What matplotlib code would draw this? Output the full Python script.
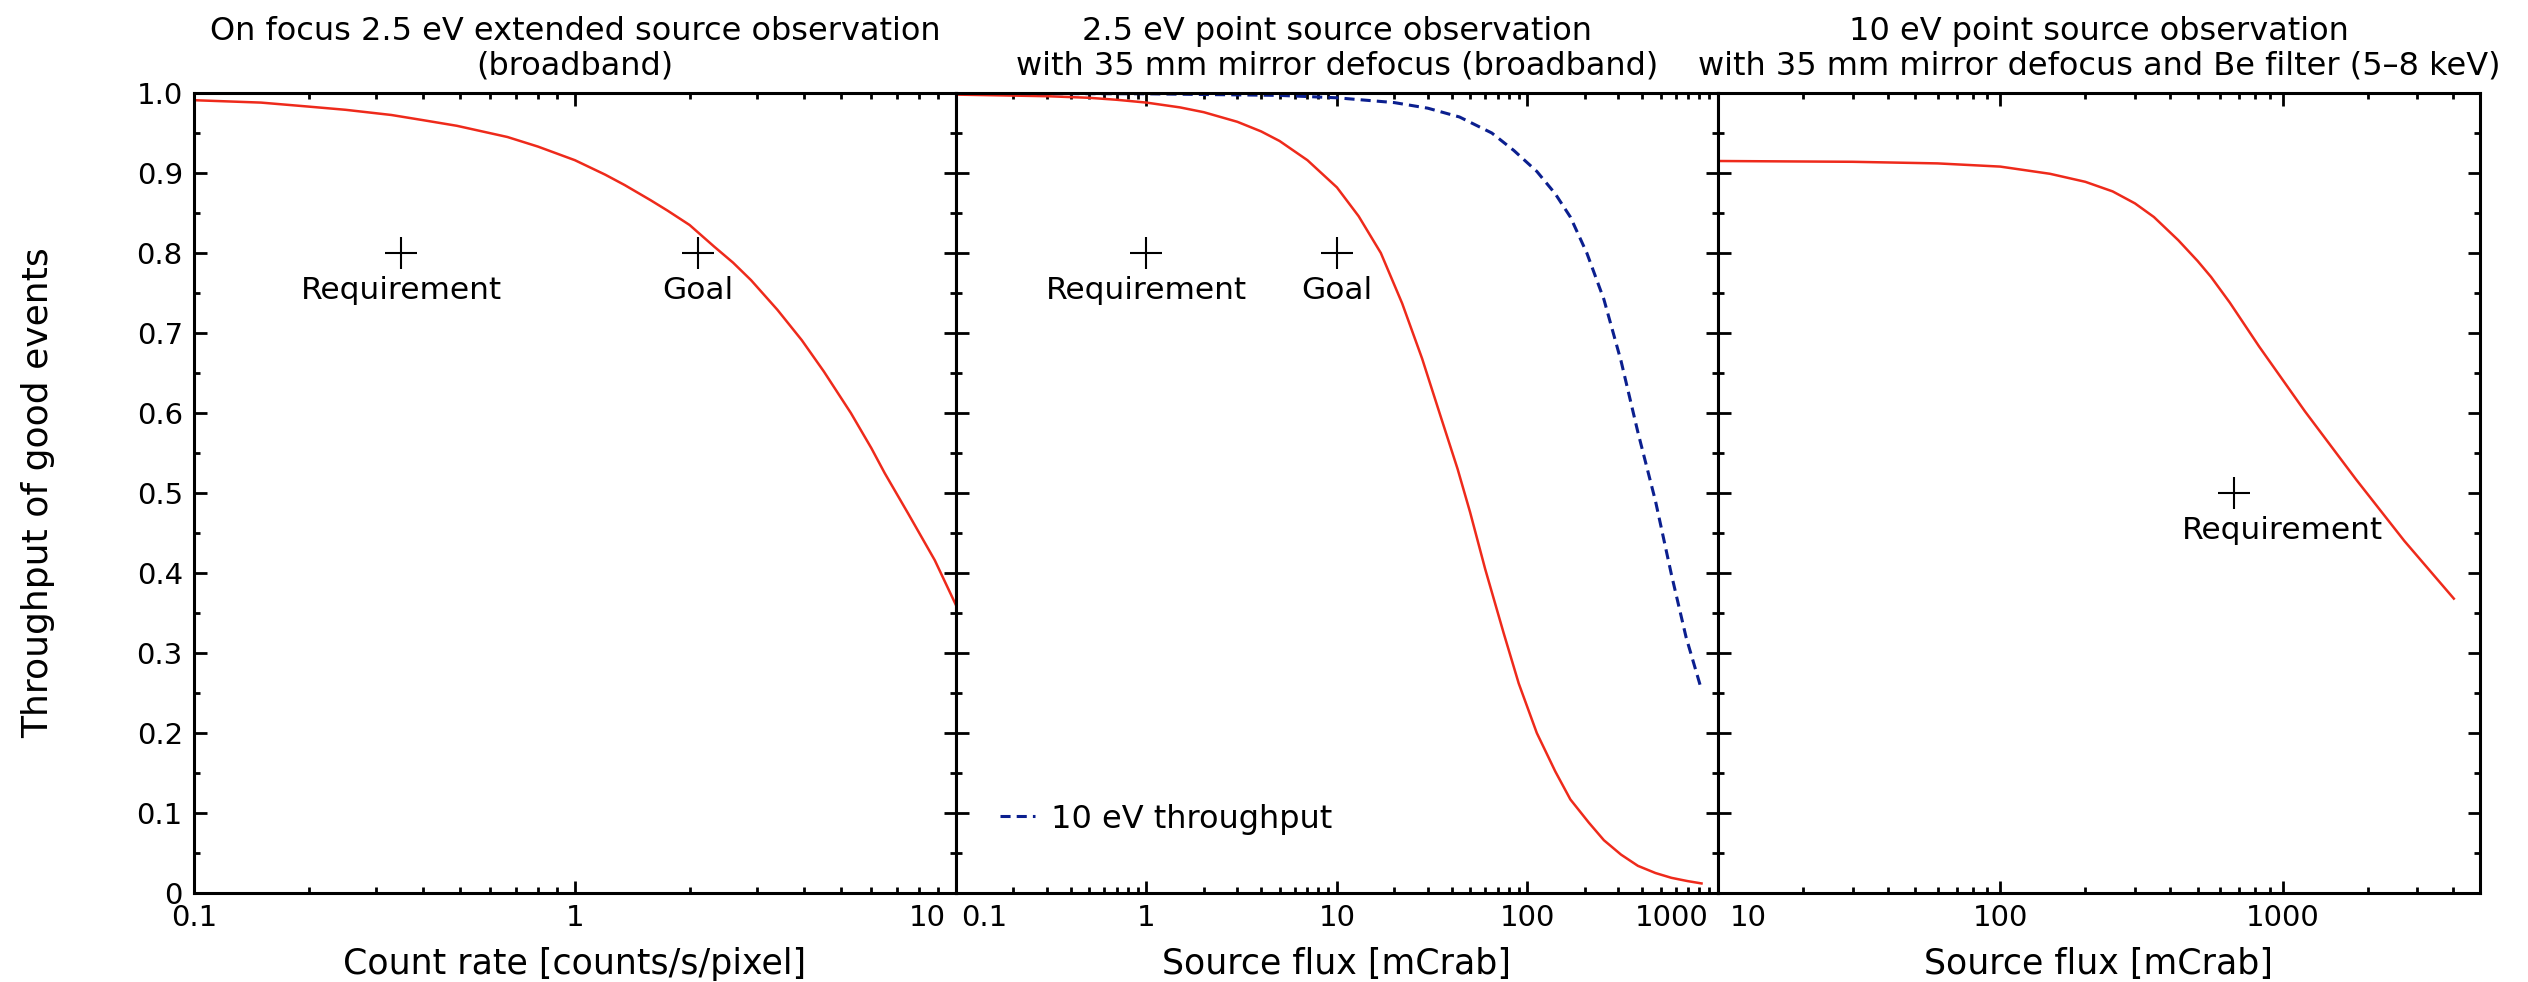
import matplotlib
matplotlib.use("Agg")
import matplotlib.pyplot as plt
from matplotlib.ticker import MultipleLocator, NullFormatter
from matplotlib.lines import Line2D
from matplotlib.transforms import ScaledTranslation

# panel 1: on focus extended source
rate1 = [0.1, 0.15, 0.2, 0.25, 0.33, 0.4, 0.49, 0.665, 0.8, 1.0, 1.2, 1.35, 1.58, 1.75, 2.0, 2.32,
         2.6, 2.9, 3.4, 3.94, 4.5, 5.3, 6.0, 6.5, 7.5, 8.8, 10.0]
thr1 = [0.991, 0.988, 0.983, 0.979, 0.9725, 0.966, 0.959, 0.945, 0.933, 0.916, 0.898, 0.885, 0.866, 0.853,
        0.835, 0.808, 0.788, 0.766, 0.729, 0.691, 0.652, 0.600, 0.556, 0.525, 0.474, 0.416, 0.36]
req1 = (0.35, 0.8)
goal1 = (2.1, 0.8)

# panel 2: point source, 35 mm defocus
flux2 = [0.1, 0.3, 0.5, 0.7, 1.0, 1.5, 2.0, 3.0, 4.0, 5.0, 7.0, 10.0, 13.0, 17.0, 22.0, 28.0, 35.0, 43.0,
         50.0, 60.0, 75.0, 90.0, 112, 140, 168, 210, 252, 310, 380, 470, 570, 690, 820]
thr2 = [0.998, 0.996, 0.994, 0.9915, 0.988, 0.982, 0.976, 0.964, 0.952, 0.940, 0.916, 0.882, 0.846, 0.800,
        0.737, 0.668, 0.596, 0.530, 0.476, 0.405, 0.325, 0.262, 0.200, 0.152, 0.117, 0.088, 0.066, 0.048,
        0.034, 0.025, 0.019, 0.015, 0.012]
flux2_10ev = [0.1, 1.0, 5.0, 10, 20, 30, 44, 65, 85, 112, 140, 168, 205, 252, 310, 380, 470, 570, 680, 820]
thr2_10ev = [0.9995, 0.999, 0.997, 0.994, 0.988, 0.981, 0.970, 0.950, 0.928, 0.902, 0.874, 0.845, 0.800,
             0.742, 0.665, 0.576, 0.490, 0.398, 0.320, 0.254]
req2 = (1.0, 0.8)
goal2 = (10.0, 0.8)

# panel 3: 10 eV point source, defocus + Be filter
flux3 = [10, 30, 60, 100, 150, 200, 250, 300, 350, 427, 500, 558, 650, 826, 1200, 1820, 2700, 4040]
thr3 = [0.915, 0.914, 0.912, 0.908, 0.899, 0.889, 0.877, 0.862, 0.845, 0.816, 0.790, 0.770, 0.738, 0.683,
        0.602, 0.517, 0.440, 0.368]
req3 = (670, 0.5)

titles = ["On focus 2.5 eV extended source observation\n(broadband)",
          "2.5 eV point source observation\nwith 35 mm mirror defocus (broadband)",
          "10 eV point source observation\nwith 35 mm mirror defocus and Be filter (5\u20138 keV)"]
xlabels = ["Count rate [counts/s/pixel]", "Source flux [mCrab]", "Source flux [mCrab]"]
xlims = [(0.1, 10), (0.1, 1000), (10, 5000)]
xticks = [[0.1, 1, 10], [0.1, 1, 10, 100, 1000], [10, 100, 1000]]
xticklabels = [["0.1", "1", "10"], ["0.1", "1", "10", "100", "1000"], ["10", "100", "1000"]]
yticks = [0, 0.1, 0.2, 0.3, 0.4, 0.5, 0.6, 0.7, 0.8, 0.9, 1.0]
yticklabels = ["0", "0.1", "0.2", "0.3", "0.4", "0.5", "0.6", "0.7", "0.8", "0.9", "1.0"]

RED = "#ee2a1b"
BLUE = "#0b1f8f"

fig, axs = plt.subplots(1, 3, figsize=(25.28, 9.82), dpi=100, sharey=True)
fig.subplots_adjust(left=0.0767, right=0.981, bottom=0.0906, top=0.9053, wspace=0)

for i, ax in enumerate(axs):
    ax.set_xscale("log")
    ax.set_xlim(*xlims[i])
    ax.set_ylim(0, 1)
    ax.set_xticks(xticks[i], xticklabels[i])
    ax.xaxis.set_minor_formatter(NullFormatter())
    ax.yaxis.set_major_locator(MultipleLocator(0.1))
    ax.yaxis.set_minor_locator(MultipleLocator(0.05))
    ax.tick_params(which="both", direction="in", top=True, right=True, width=2)
    ax.tick_params(which="major", length=9, labelsize=21, pad=8)
    ax.tick_params(which="minor", length=4.5)
    for sp in ax.spines.values():
        sp.set_linewidth(2.2)
    ax.set_title(titles[i], fontsize=23, pad=13, linespacing=1.18)
    ax.set_xlabel(xlabels[i], fontsize=25, labelpad=11)

axs[0].set_yticks(yticks, yticklabels)

# curves
axs[0].plot(rate1, thr1, color=RED, lw=1.8)
axs[1].plot(flux2, thr2, color=RED, lw=1.8)
axs[1].plot(flux2_10ev, thr2_10ev, color=BLUE, lw=2.2, dashes=(3.3, 2.0))
axs[2].plot(flux3, thr3, color=RED, lw=1.8)


def mark(ax, pt, label, tx=None, dy=0.047):
    ax.plot(pt[0], pt[1], "+", ms=23, mew=1.5, color="k")
    ax.text(tx if tx else pt[0], pt[1] - dy, label, ha="center", va="center", fontsize=22.5)


mark(axs[0], req1, "Requirement")
mark(axs[0], goal1, "Goal")
mark(axs[1], req2, "Requirement")
mark(axs[1], goal2, "Goal")
mark(axs[2], req3, "Requirement", tx=1000)

h = Line2D([], [], color=BLUE, lw=2.2, dashes=(3.3, 2.0))
axs[1].legend([h], ["10 eV throughput"], loc="center left", bbox_to_anchor=(0.058, 0.0925),
              frameon=False, borderpad=0, borderaxespad=0, handlelength=1.1,
              handletextpad=0.5, fontsize=23)

fig.text(38 / 2528, 0.498, "Throughput of good events", rotation=90, ha="center", va="center", fontsize=26)

# first / last tick labels pushed inside the panel so neighbours don't collide
fig.canvas.draw()
align = [(None, ("right", -10)), (("left", 5), ("right", -9)), (("left", 12), None)]
for ax, ends in zip(axs, align):
    ticks = ax.xaxis.get_major_ticks()
    for tick, spec in zip((ticks[0], ticks[-1]), ends):
        if spec is None:
            continue
        lab = tick.label1
        lab.set_horizontalalignment(spec[0])
        lab.set_transform(lab.get_transform() + ScaledTranslation(spec[1] / 100, 0, fig.dpi_scale_trans))

fig.savefig("out.png", dpi=100)
